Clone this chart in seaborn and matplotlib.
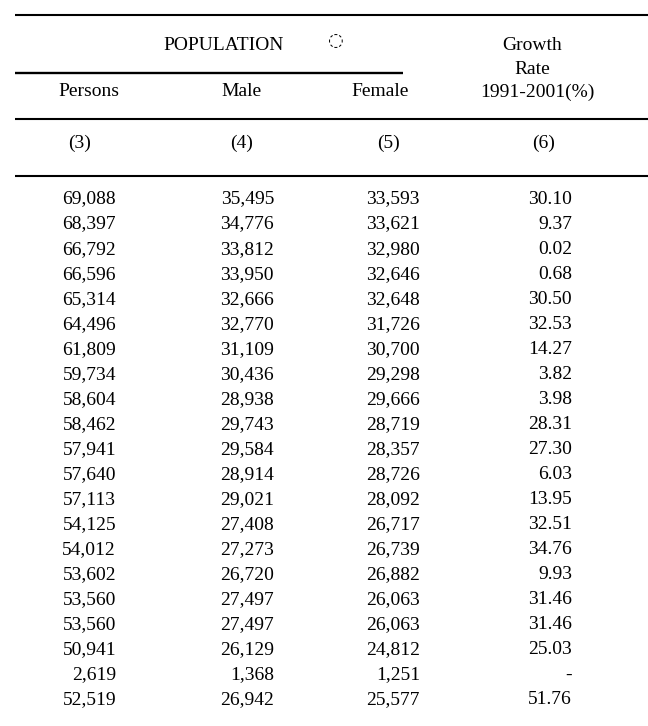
import matplotlib
matplotlib.use("Agg")
import matplotlib.pyplot as plt
import seaborn as sns

# ---- data ----
persons = ["69,088", "68,397", "66,792", "66,596", "65,314", "64,496", "61,809",
           "59,734", "58,604", "58,462", "57,941", "57,640", "57,113", "54,125",
           "54,012", "53,602", "53,560", "53,560", "50,941", "2,619", "52,519"]
male = ["35,495", "34,776", "33,812", "33,950", "32,666", "32,770", "31,109",
        "30,436", "28,938", "29,743", "29,584", "28,914", "29,021", "27,408",
        "27,273", "26,720", "27,497", "27,497", "26,129", "1,368", "26,942"]
female = ["33,593", "33,621", "32,980", "32,646", "32,648", "31,726", "30,700",
          "29,298", "29,666", "28,719", "28,357", "28,726", "28,092", "26,717",
          "26,739", "26,882", "26,063", "26,063", "24,812", "1,251", "25,577"]
growth = ["30.10", "9.37", "0.02", "0.68", "30.50", "32.53", "14.27", "3.82",
          "3.98", "28.31", "27.30", "6.03", "13.95", "32.51", "34.76", "9.93",
          "31.46", "31.46", "25.03", "-", "51.76"]
col_labels = ["Persons", "Male", "Female", "1991-2001(%)"]
col_numbers = ["(3)", "(4)", "(5)", "(6)"]
group_label = "POPULATION"
growth_label = ["Growth", "Rate"]

# ---- style / layout ----
sns.set_theme(style="white")
plt.rcParams["font.family"] = ["Liberation Serif", "DejaVu Serif"]
FS = 14
INK = "#000000"

fig = plt.figure(figsize=(6.48, 7.26), dpi=100)
ax = fig.add_axes([0, 0, 1, 1])
ax.set_xlim(0, 648)
ax.set_ylim(726, 0)
sns.despine(ax=ax, left=True, bottom=True, top=True, right=True)
ax.set_xticks([])
ax.set_yticks([])
ax.set_facecolor("white")


def put(x, y, s, ha="center", **kw):
    ax.text(x, y, s, ha=ha, va="center", fontsize=kw.pop("fontsize", FS),
            color=INK, **kw)


# rules
ax.hlines(14.5, 15, 648, color=INK, lw=1.5)
ax.hlines(73, 15, 403, color=INK, lw=1.7)
ax.hlines(119, 15, 648, color=INK, lw=1.5)
ax.hlines(176, 15, 648, color=INK, lw=1.5)

# header
put(224, 45, group_label)
put(336, 41, "\u25cc", fontsize=13, family=["DejaVu Sans"], fontweight="bold")
put(532, 45, growth_label[0])
put(532, 69, growth_label[1])
label_x = [89, 241, 380, 537]
for x, lab in zip(label_x, col_labels):
    put(x, 92, lab)
num_x = [80, 242, 388, 544]
for x, lab in zip(num_x, col_numbers):
    put(x, 143, lab)

# body
right_x = [116, 274, 420, 572]
row0, dy = 199, 25.05
for j, col in enumerate([persons, male, female, growth]):
    for i, v in enumerate(col):
        put(right_x[j], row0 + i * dy, v, ha="right")

fig.savefig("out.png", dpi=100, facecolor="white")
